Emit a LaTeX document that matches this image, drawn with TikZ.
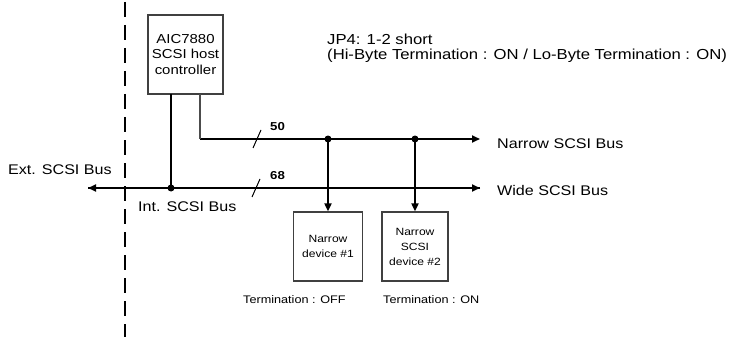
\documentclass[tikz,border=0pt]{standalone}
\usepackage{fontspec}
\setmainfont{Liberation Sans}[FakeStretch=1.15]
\usetikzlibrary{arrows.meta}
\tikzset{
  bus/.style={line width=1.8pt},
  tip/.style={-{Triangle[length=8pt,width=7pt]}},
  dot/.style={circle,fill=black,inner sep=0pt,minimum size=7pt},
  boxnode/.style={draw=black!75,line width=1.2pt,fill=white,align=center,inner sep=1pt},
  lbl/.style={anchor=base west,inner sep=0pt,font=\fontsize{14}{16}\selectfont},
  small/.style={anchor=base west,inner sep=0pt,font=\fontsize{11}{13}\selectfont},
}
\begin{document}
\begin{tikzpicture}[x=1pt,y=-1pt]
\useasboundingbox (0,0) rectangle (729,337);
% dashed border line
\coordinate (dtop) at (125,2);
\coordinate (dbot) at (125,337);
\draw[line width=1.8pt,dash pattern=on 15pt off 8pt] (dtop) -- (dbot);
% controller
\node[boxnode,minimum width=75pt,minimum height=79pt,font=\fontsize{13}{15.5}\selectfont]
  (ctrl) at (185.5,54.5) {AIC7880\\SCSI host\\controller};
% bus coordinates
\coordinate (wl) at (88,188);
\coordinate (wr) at (480,188);
\coordinate (nc) at (200,139);
\coordinate (nr) at (480,139);
\coordinate (ctrlw) at (171,94);
\coordinate (ctrln) at (200,94);
\node[dot] (wd) at (171,188) {};
\node[dot] (nd1) at (328,139) {};
\node[dot] (nd2) at (415,139) {};
% devices
\node[boxnode,minimum width=69pt,minimum height=69pt,font=\fontsize{10.5}{15}\selectfont]
  (dev1) at (328,246.5) {Narrow\\device \#1};
\node[boxnode,minimum width=66pt,minimum height=69pt,font=\fontsize{10.5}{15}\selectfont]
  (dev2) at (415,246.5) {Narrow\\SCSI\\device \#2};
% buses
\draw[bus,tip] (wr) -- (wl);
\draw[bus,tip] (wl) -- (wr);
\draw[bus,tip] (nc) -- (nr);
\draw[line width=1.2pt,black!70] (ctrln) -- (nc);
\draw[bus] (ctrlw) -- (wd.center);
\draw[bus,tip] (nd1.center) -- (dev1.north);
\draw[bus,tip] (nd2.center) -- (dev2.north);
% slashes
\coordinate (s1a) at (253,148);
\coordinate (s1b) at (261,130);
\coordinate (s2a) at (252,197);
\coordinate (s2b) at (260,179);
\draw[line width=1pt] (s1a) -- (s1b);
\draw[line width=1pt] (s2a) -- (s2b);
% labels
\node[small,font=\fontsize{11.5}{13}\selectfont\bfseries] (n50) at (270,131) {50};
\node[small,font=\fontsize{11.5}{13}\selectfont\bfseries] (n68) at (270,179) {68};
\node[lbl] (ext) at (8,175) {Ext. SCSI Bus};
\node[lbl] (int) at (138,211) {Int. SCSI Bus};
\node[lbl] (nsb) at (497,148) {Narrow SCSI Bus};
\node[lbl] (wsb) at (497,195) {Wide SCSI Bus};
\node[lbl,font=\fontsize{14.5}{16}\selectfont] (jp1) at (327,45) {JP4: 1-2 short};
\node[lbl,font=\fontsize{14.5}{16}\selectfont] (jp2) at (327,60) {(Hi-Byte Termination : ON / Lo-Byte Termination : ON)};
\node[small] (t1) at (243,303) {Termination : OFF};
\node[small] (t2) at (383,303) {Termination : ON};
\end{tikzpicture}
\end{document}
